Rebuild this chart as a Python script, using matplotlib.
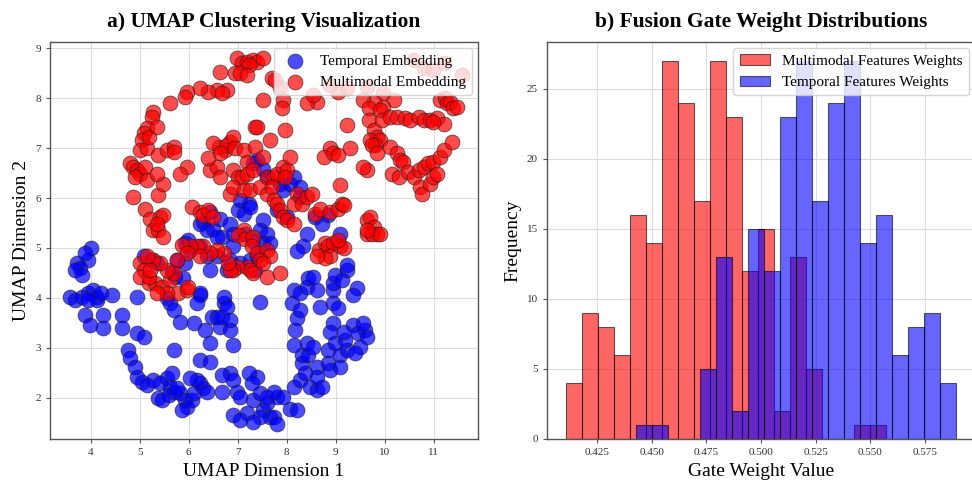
import numpy as np
import matplotlib
matplotlib.use("Agg")
import matplotlib.pyplot as plt

plt.rcParams['font.family'] = ['Liberation Serif', 'DejaVu Serif']

# ---------------- data: UMAP embedding ----------------
temporal_x = [4.00, 3.95, 3.73, 3.78, 3.68, 3.82, 3.88, 3.58, 3.68, 3.82, 3.95, 4.05, 4.12, 4.12, 3.95,
              4.22, 4.43, 3.88, 3.99, 4.26, 4.26, 4.63, 4.63, 4.94, 4.94, 5.08, 4.77, 4.80, 4.91, 4.94,
              5.04, 5.14, 5.28, 5.42, 5.55, 5.62, 5.38, 5.45, 5.59, 5.69, 5.82, 5.93, 5.96, 5.86, 6.06,
              6.10, 6.23, 6.30, 6.16, 6.03, 6.37, 6.67, 6.84, 6.67, 5.65, 5.76, 5.69, 6.23, 6.44, 5.82,
              6.10, 6.23, 6.47, 6.33, 6.44, 6.57, 6.64, 6.67, 6.71, 6.71, 6.78, 6.84, 6.91, 6.84, 6.91,
              6.98, 7.05, 7.18, 7.32, 7.46, 7.52, 7.59, 7.66, 7.73, 7.80, 7.46, 7.32, 7.39, 7.22, 7.29,
              6.91, 7.05, 7.59, 7.80, 7.73, 7.93, 8.07, 8.20, 7.46, 8.14, 8.27, 8.37, 8.31, 8.31, 8.44,
              8.41, 8.54, 8.61, 8.48, 8.61, 8.71, 8.61, 8.14, 8.17, 8.20, 8.10, 8.14, 8.27, 8.27, 8.41,
              8.44, 8.54, 8.61, 8.68, 8.85, 8.88, 8.85, 8.99, 9.09, 9.09, 9.22, 9.19, 9.36, 9.46, 9.50,
              9.39, 9.60, 9.63, 9.56, 9.16, 8.95, 8.88, 8.95, 9.05, 8.95, 8.95, 8.99, 9.12, 9.22, 9.22,
              9.43, 9.36, 8.41, 8.34, 8.20, 8.58, 8.71, 8.85, 9.09, 5.08, 5.25, 5.35, 5.65, 5.72, 5.89,
              5.93, 5.99, 6.23, 6.30, 6.44, 6.64, 6.67, 6.84, 6.91, 7.01, 7.05, 7.12, 7.22, 7.25, 7.32,
              7.39, 7.52, 7.59, 7.86, 7.93, 8.07, 8.14, 8.27, 8.27, 7.80, 8.00, 7.52, 7.46, 7.59, 7.52,
              7.66, 7.32, 7.15, 6.91, 6.84, 6.78, 6.57, 6.37, 6.23, 6.03, 5.93, 5.76, 6.37, 6.50, 6.57,
              7.05, 7.25, 7.39, 7.35, 6.44, 6.23, 6.16, 5.55, 5.62, 5.69]
temporal_y = [4.99, 4.76, 4.69, 4.59, 4.56, 4.46, 4.89, 4.02, 3.96, 4.02, 4.09, 4.16, 4.02, 3.96, 3.96,
              4.09, 4.06, 3.66, 3.46, 3.66, 3.39, 3.66, 3.39, 4.02, 3.29, 3.22, 2.95, 2.79, 2.62, 2.42,
              2.32, 2.25, 2.35, 2.29, 2.39, 2.22, 1.99, 1.95, 2.05, 2.12, 2.09, 1.95, 1.82, 1.75, 1.95,
              2.09, 2.29, 2.19, 2.35, 2.39, 2.12, 2.12, 2.49, 2.45, 2.49, 2.19, 2.95, 2.75, 2.72, 3.52,
              3.49, 4.06, 3.62, 3.36, 3.09, 3.62, 3.42, 3.62, 3.89, 4.02, 3.82, 3.36, 3.05, 3.56, 2.35,
              2.12, 2.02, 1.69, 1.95, 2.09, 1.75, 1.89, 1.62, 1.62, 1.48, 1.62, 1.52, 2.42, 2.49, 2.29,
              1.65, 1.55, 2.02, 2.02, 2.12, 2.02, 1.78, 1.75, 3.92, 2.22, 2.35, 2.49, 2.69, 2.85, 2.85,
              3.09, 3.02, 2.62, 2.22, 2.15, 2.22, 2.42, 3.05, 3.36, 3.59, 3.89, 4.16, 4.09, 3.76, 4.22,
              4.39, 4.42, 4.16, 3.82, 2.69, 2.55, 2.95, 3.09, 2.85, 2.62, 2.95, 3.15, 3.46, 3.29, 3.02,
              2.89, 3.36, 3.22, 3.49, 3.32, 3.49, 3.32, 3.89, 3.79, 4.16, 4.29, 4.46, 4.36, 4.56, 4.66,
              4.19, 4.06, 5.29, 5.03, 4.93, 5.63, 5.49, 5.66, 5.29, 4.83, 4.76, 4.69, 4.52, 4.42, 4.39,
              5.09, 5.16, 5.49, 5.53, 5.73, 5.59, 5.23, 5.49, 5.29, 5.76, 5.96, 5.69, 5.89, 5.83, 6.70,
              6.76, 6.59, 6.43, 6.29, 6.16, 6.29, 6.43, 6.23, 6.03, 5.76, 5.63, 5.56, 5.36, 5.29, 5.09,
              5.09, 5.13, 5.29, 5.03, 4.76, 4.56, 4.83, 4.83, 5.03, 4.96, 4.69, 4.76, 5.36, 5.39, 5.23,
              4.69, 4.76, 4.83, 4.56, 4.56, 4.09, 3.89, 3.99, 3.89, 3.76]

multimodal_x = [6.98, 7.08, 7.18, 7.32, 7.39, 7.52, 7.22, 6.95, 7.05, 7.18, 6.64, 6.78, 6.57, 6.67, 6.40,
                6.23, 5.96, 5.93, 5.62, 5.28, 5.25, 5.14, 5.08, 5.04, 5.01, 5.14, 5.18, 5.35, 4.80, 4.87,
                4.94, 5.01, 4.91, 5.11, 5.14, 4.87, 5.11, 5.21, 5.28, 5.38, 5.42, 5.48, 5.35, 5.48, 5.38,
                5.48, 5.38, 5.55, 5.69, 5.69, 5.96, 5.82, 5.35, 6.44, 6.57, 6.64, 6.74, 6.84, 6.61, 6.50,
                6.78, 6.91, 6.95, 6.64, 6.40, 7.12, 7.35, 7.35, 7.52, 7.66, 7.18, 6.06, 6.23, 6.30, 6.40,
                6.50, 6.91, 7.01, 7.08, 7.18, 7.32, 7.59, 7.73, 7.80, 7.93, 8.00, 7.97, 6.84, 6.91, 7.12,
                7.25, 7.46, 7.59, 7.69, 7.73, 7.80, 7.86, 7.93, 8.00, 8.14, 8.20, 8.14, 8.31, 8.07, 7.97,
                8.41, 8.51, 8.58, 8.68, 8.88, 9.05, 9.12, 9.16, 9.09, 7.12, 7.01, 7.15, 7.32, 7.29, 7.39,
                7.59, 7.66, 7.46, 7.52, 7.59, 7.86, 7.18, 7.25, 7.32, 6.98, 6.91, 6.84, 6.81, 6.71, 6.57,
                6.44, 6.30, 6.16, 6.03, 5.86, 5.96, 6.23, 5.76, 5.01, 5.08, 5.01, 5.18, 5.31, 5.45, 5.62,
                5.69, 5.55, 5.42, 5.28, 5.14, 5.79, 5.96, 5.99, 5.55, 5.35, 5.18, 5.21, 8.65, 8.78, 8.85,
                8.95, 9.09, 9.16, 9.05, 8.88, 8.78, 8.61, 9.63, 9.70, 9.77, 9.84, 9.63, 9.73, 9.90, 9.63,
                8.88, 9.05, 9.22, 9.63, 9.97, 10.18, 9.97, 9.77, 9.56, 8.61, 8.41, 8.54, 7.93, 7.86, 7.69,
                7.52, 7.39, 7.90, 9.22, 9.29, 8.88, 8.75, 8.95, 9.05, 9.67, 9.67, 9.77, 9.84, 9.70, 9.90,
                9.80, 9.73, 9.84, 9.63, 9.56, 9.90, 9.94, 10.11, 10.25, 10.42, 10.52, 10.69, 10.79, 10.93,
                11.06, 11.20, 10.99, 10.11, 10.25, 10.31, 10.38, 10.14, 10.28, 10.48, 10.59, 10.69, 10.79,
                10.89, 10.99, 11.13, 11.20, 11.37, 10.72, 10.76, 10.93, 10.99, 11.06, 11.13, 11.23, 11.27,
                11.33, 11.40, 11.47, 10.59, 10.79, 10.99, 11.20, 11.57, 7.76]
multimodal_y = [8.80, 8.70, 8.73, 8.77, 8.73, 8.80, 8.67, 8.50, 8.50, 8.47, 8.53, 8.16, 8.16, 8.10, 8.13,
                8.20, 8.13, 8.03, 7.90, 7.73, 7.63, 7.40, 7.30, 7.16, 6.96, 7.00, 7.23, 7.43, 6.70, 6.63,
                6.56, 6.49, 6.43, 6.63, 6.36, 6.03, 5.79, 5.59, 5.36, 5.36, 5.63, 5.66, 5.49, 5.23, 6.06,
                6.29, 6.86, 6.96, 7.03, 6.93, 6.63, 6.49, 6.49, 6.56, 6.63, 6.43, 6.96, 7.13, 7.03, 7.10,
                7.06, 7.23, 7.00, 6.90, 6.80, 6.96, 7.43, 7.03, 6.83, 7.16, 6.73, 5.83, 5.73, 5.66, 5.76,
                5.63, 6.56, 6.43, 6.43, 6.49, 6.56, 6.43, 6.43, 6.49, 6.63, 6.56, 6.43, 6.09, 6.23, 6.16,
                6.16, 6.23, 6.09, 6.23, 5.96, 5.89, 5.76, 5.63, 5.56, 5.49, 6.09, 5.89, 5.89, 6.83, 7.36,
                6.03, 6.09, 5.69, 5.79, 5.73, 5.79, 5.89, 5.86, 6.26, 5.36, 5.26, 5.19, 5.23, 5.03, 4.89,
                4.96, 4.83, 4.76, 4.69, 4.42, 4.49, 4.62, 4.56, 4.49, 4.62, 4.56, 4.56, 4.69, 4.89, 4.96,
                4.89, 5.03, 5.03, 5.03, 5.06, 4.89, 4.83, 4.76, 4.69, 4.56, 4.42, 4.29, 4.29, 4.22, 4.36,
                4.49, 4.56, 4.69, 4.76, 4.83, 4.09, 4.16, 4.22, 4.09, 4.09, 4.42, 4.56, 4.96, 5.09, 5.03,
                5.09, 5.03, 4.99, 5.16, 4.83, 4.79, 4.83, 5.56, 5.63, 5.43, 5.29, 5.29, 5.29, 5.29, 5.36,
                8.26, 8.13, 8.20, 8.23, 8.10, 7.96, 7.83, 7.93, 7.96, 7.93, 7.90, 8.06, 7.96, 8.23, 8.40,
                7.96, 7.43, 7.80, 7.46, 7.00, 7.00, 6.83, 6.90, 6.86, 7.80, 7.56, 7.36, 7.23, 7.16, 7.16,
                7.06, 7.06, 6.90, 6.56, 6.63, 7.76, 7.56, 7.63, 7.63, 7.60, 7.56, 7.63, 7.56, 7.56,
                7.60, 7.49, 7.53, 7.03, 6.90, 6.76, 6.73, 6.49, 6.43, 6.53, 6.43, 6.56, 6.63,
                6.70, 6.73, 6.83, 6.96, 7.13, 6.23, 6.09, 6.29, 6.43, 6.49, 7.96, 8.00, 7.90,
                7.93, 7.80, 7.83, 8.77, 8.60, 8.57, 8.70, 8.47, 8.36]

# ---------------- data: gate weight histograms ----------------
multimodal_range = (0.4109, 0.5574)
multimodal_counts = [4, 9, 8, 6, 16, 14, 27, 24, 17, 27, 23, 12, 15, 2, 13, 5, 0, 0, 1, 1]
temporal_range = (0.4426, 0.5891)
temporal_counts = [1, 1, 0, 0, 5, 13, 2, 15, 12, 23, 27, 17, 24, 27, 14, 16, 6, 8, 9, 4]

# ---------------- figure ----------------
fig = plt.figure(figsize=(9.72, 4.84), dpi=100)
ax1 = fig.add_axes([50 / 972, 1 - 439 / 484, 428 / 972, 397 / 484])
ax2 = fig.add_axes([547 / 972, 1 - 439 / 484, 428 / 972, 397 / 484])

for ax in (ax1, ax2):
    ax.set_axisbelow(True)
    ax.grid(True, color='#dddddd', linewidth=0.8)
    for s in ax.spines.values():
        s.set_color('#555555')
        s.set_linewidth(1.0)
    ax.tick_params(labelsize=8, length=3, width=0.8, color='#555555', labelcolor='#333333')

# Panel a
ax1.scatter(temporal_x, temporal_y, s=115, c='blue', alpha=0.7, edgecolors='#222222',
            linewidths=0.6, label='Temporal Embedding')
ax1.scatter(multimodal_x, multimodal_y, s=115, c='red', alpha=0.7, edgecolors='#222222',
            linewidths=0.6, label='Multimodal Embedding')
ax1.set_xlim(3.17, 11.90)
ax1.set_ylim(1.17, 9.13)
ax1.set_title('a) UMAP Clustering Visualization', fontsize=15.5, fontweight='bold', pad=11)
ax1.set_xlabel('UMAP Dimension 1', fontsize=14)
ax1.set_ylabel('UMAP Dimension 2', fontsize=14)
ax1.legend(loc='upper right', fontsize=11, framealpha=0.8, edgecolor='#cccccc',
           handletextpad=0.6, borderaxespad=0.4)

# Panel b
m_edges = np.linspace(multimodal_range[0], multimodal_range[1], len(multimodal_counts) + 1)
t_edges = np.linspace(temporal_range[0], temporal_range[1], len(temporal_counts) + 1)
m_centers = (m_edges[:-1] + m_edges[1:]) / 2
t_centers = (t_edges[:-1] + t_edges[1:]) / 2
ax2.hist(m_centers, bins=m_edges, weights=multimodal_counts, color='red', alpha=0.6,
         edgecolor='black', linewidth=0.8, label='Multimodal Features Weights')
ax2.hist(t_centers, bins=t_edges, weights=temporal_counts, color='blue', alpha=0.6,
         edgecolor='black', linewidth=0.8, label='Temporal Features Weights')
ax2.set_xticks([0.425, 0.450, 0.475, 0.500, 0.525, 0.550, 0.575])
ax2.set_title('b) Fusion Gate Weight Distributions', fontsize=15.5, fontweight='bold', pad=11)
ax2.set_xlabel('Gate Weight Value', fontsize=14)
ax2.set_ylabel('Frequency', fontsize=14)
ax2.legend(loc='upper right', fontsize=11, framealpha=0.8, edgecolor='#cccccc',
           borderaxespad=0.4)

fig.savefig('out.png', dpi=100)
